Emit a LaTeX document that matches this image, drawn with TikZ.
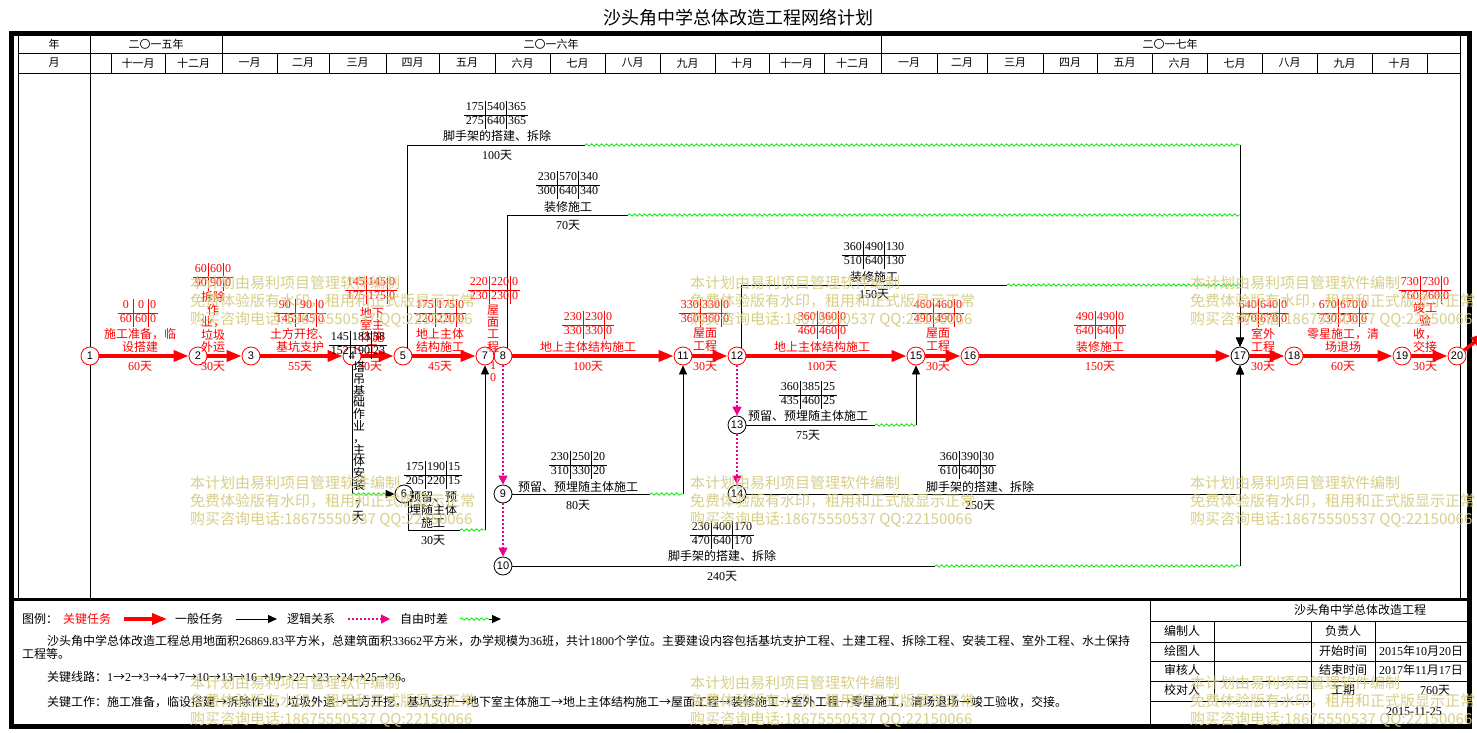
\documentclass[tikz,border=0pt]{standalone}
\usepackage{fontspec}
\setmainfont{Noto Sans CJK SC}
\newfontfamily\numfont{Liberation Serif}
\newfontfamily\circfont{Liberation Sans}
\usetikzlibrary{arrows.meta,decorations.pathmorphing}
\definecolor{wmcol}{RGB}{212,202,125}
\definecolor{wavegreen}{RGB}{0,235,0}
\newcommand\tbx[6]{{\numfont\setlength\tabcolsep{1.6pt}\begin{tabular}{c|c|c}#1&#2&#3\\\hline #4&#5&#6\end{tabular}}}
\newcommand\dys[1]{{\numfont #1}天}
\begin{document}
\begin{tikzpicture}[x=1pt,y=-1pt,
 evt/.style={circle, draw=black, line width=0.8pt, fill=white, minimum size=18pt, inner sep=0pt, font=\circfont\fontsize{11}{11}\selectfont},
 cevt/.style={evt, draw=red},
 crit/.style={draw=red, line width=3.5pt, -{Triangle[length=15pt,width=11pt]}},
 norm/.style={draw=black, line width=0.8pt, -{Triangle[length=9pt,width=8pt]}},
 thinln/.style={draw=black, line width=0.8pt},
 dum/.style={draw=magenta, line width=1.3pt, dash pattern=on 1.5pt off 2.5pt, -{Triangle[length=9pt,width=9pt]}},
 wavy/.style={draw=wavegreen, line width=0.8pt, decorate, decoration={snake, amplitude=1.2pt, segment length=5pt}},
 lbl/.style={align=center, inner sep=0pt, font=\fontsize{12}{13}\selectfont},
 clbl/.style={lbl, text=red},
 tbl/.style={inner sep=0pt, font=\fontsize{12}{13.5}\selectfont},
 ctbl/.style={tbl, text=red},
 hd/.style={inner sep=0pt, font=\fontsize{11}{11}\selectfont},
 wmk/.style={text=wmcol, opacity=0.92, anchor=west, align=left, inner sep=0pt, font=\fontsize{15}{18}\selectfont},
]
\useasboundingbox (0,0) rectangle (1477,733);
% title
\node[inner sep=0pt, font=\fontsize{18}{18}\selectfont] (title) at (738,18) {沙头角中学总体改造工程网络计划};
% frame
\draw[line width=5pt] (11,34) rectangle (1469,726);
\draw[line width=0.8pt] (18,35) -- (18,599) (1460,35) -- (1460,599);
\draw[line width=0.8pt] (18,53) -- (1460,53) (18,73) -- (1460,73);
\draw[line width=0.8pt] (90,35) -- (90,599);
\foreach \x in {222,881} \draw[line width=0.8pt] (\x,35) -- (\x,53);
\foreach \x in {111,165,222,277,329,386,439,495,550,605,660,715,769,824,881,937,987,1043,1097,1152,1207,1262,1317,1372,1427}
  \draw[line width=0.8pt] (\x,53) -- (\x,73);
\draw[line width=3pt] (11,599) -- (1469,599);
% header text
\node[hd] (hy) at (54,44) {年};
\node[hd] (hm) at (54,63) {月};
\node[hd] (y15) at (156,44) {二〇一五年};
\node[hd] (y16) at (551,44) {二〇一六年};
\node[hd] (y17) at (1170,44) {二〇一七年};
\foreach \a/\b/\t in {111/165/十一月,165/222/十二月,222/277/一月,277/329/二月,329/386/三月,386/439/四月,439/495/五月,495/550/六月,550/605/七月,605/660/八月,660/715/九月,715/769/十月,769/824/十一月,824/881/十二月,881/937/一月,937/987/二月,987/1043/三月,1043/1097/四月,1097/1152/五月,1152/1207/六月,1207/1262/七月,1262/1317/八月,1317/1372/九月,1372/1427/十月}
  \node[hd] (mo\a) at ({(\a+\b)/2},63) {\t};
% title block
\draw[line width=0.8pt] (1150,599) -- (1150,726);
\draw[line width=0.8pt] (1150,621) -- (1469,621) (1150,642) -- (1469,642) (1150,661) -- (1469,661) (1150,681) -- (1469,681) (1150,701) -- (1311,701);
\draw[line width=0.8pt] (1214,621) -- (1214,701) (1311,621) -- (1311,726) (1375,621) -- (1375,681);
\node[lbl] (tbt) at (1360,610) {沙头角中学总体改造工程};
\node[lbl] (tb1) at (1182,631) {编制人};
\node[lbl] (tb2) at (1343,631) {负责人};
\node[lbl] (tb3) at (1182,651) {绘图人};
\node[lbl] (tb4) at (1343,651) {开始时间};
\node[lbl] (tb5) at (1421,651) {{\numfont 2015}年{\numfont 10}月{\numfont 20}日};
\node[lbl] (tb6) at (1182,670) {审核人};
\node[lbl] (tb7) at (1343,670) {结束时间};
\node[lbl] (tb8) at (1421,670) {{\numfont 2017}年{\numfont 11}月{\numfont 17}日};
\node[lbl] (tb9) at (1182,690) {校对人};
\node[lbl] (tb10) at (1343,690) {工期};
\node[lbl] (tb11) at (1435,690) {\dys{760}};
\node[lbl] (tb12) at (1414,712) {\numfont 2015-11-25};
% legend
\node[lbl, anchor=west] (lg0) at (22,619) {图例：};
\node[clbl] (lg1) at (87,619) {关键任务};
\coordinate (lr1) at (124,619); \coordinate (lr2) at (167,619);
\draw[crit] (lr1) -- (lr2);
\node[lbl] (lg2) at (199,619) {一般任务};
\coordinate (lb1) at (236,619); \coordinate (lb2) at (277,619);
\draw[norm] (lb1) -- (lb2);
\node[lbl] (lg3) at (311,619) {逻辑关系};
\coordinate (ld1) at (348,619); \coordinate (ld2) at (390,619);
\draw[dum] (ld1) -- (ld2);
\node[lbl] (lg4) at (424,619) {自由时差};
\coordinate (lw1) at (460,619); \coordinate (lw2) at (489,619); \coordinate (lw3) at (501,619);
\draw[wavy] (lw1) -- (lw2); \draw[norm] (lw2) -- (lw3);
\node[lbl, anchor=west] (p1) at (47,641) {沙头角中学总体改造工程总用地面积{\numfont 26869.83}平方米，总建筑面积{\numfont 33662}平方米，办学规模为{\numfont 36}班，共计{\numfont 1800}个学位。主要建设内容包括基坑支护工程、土建工程、拆除工程、安装工程、室外工程、水土保持};
\node[lbl, anchor=west] (p2) at (22,654) {工程等。};
\node[lbl, anchor=west] (p3) at (47,677) {关键线路：{\numfont 1}→{\numfont 2}→{\numfont 3}→{\numfont 4}→{\numfont 7}→{\numfont 10}→{\numfont 13}→{\numfont 16}→{\numfont 19}→{\numfont 22}→{\numfont 23}→{\numfont 24}→{\numfont 25}→{\numfont 26}。};
\node[lbl, anchor=west] (p4) at (47,702) {关键工作：施工准备，临设搭建→拆除作业，垃圾外运→土方开挖，基坑支护→地下室主体施工→地上主体结构施工→屋面工程→装修施工→室外工程→零星施工，清场退场→竣工验收，交接。};
% ---------- network: events ----------
\node[cevt] (n1) at (90,356) {1};
\node[cevt] (n2) at (198,356) {2};
\node[cevt] (n3) at (251,356) {3};
\node[cevt] (n4) at (352,356) {4};
\node[cevt] (n5) at (403,356) {5};
\node[cevt] (n7) at (485,356) {7};
\node[cevt] (n8) at (503,356) {8};
\node[cevt] (n11) at (683,356) {11};
\node[cevt] (n12) at (737,356) {12};
\node[cevt] (n15) at (916,356) {15};
\node[cevt] (n16) at (970,356) {16};
\node[evt] (n17) at (1240,356) {17};
\node[cevt] (n18) at (1294,356) {18};
\node[cevt] (n19) at (1402,356) {19};
\node[cevt] (n20) at (1457,356) {20};
\node[evt] (n6) at (404,494) {6};
\node[evt] (n9) at (503,494) {9};
\node[evt] (n10) at (503,566) {10};
\node[evt] (n13) at (737,425) {13};
\node[evt] (n14) at (737,494) {14};
% ---------- critical activities ----------
\draw[crit] (n1) -- (n2);
\draw[crit] (n2) -- (n3);
\draw[crit] (n3) -- (n4);
\draw[crit] (n4) -- (n5);
\draw[crit] (n5) -- (n7);
\draw[draw=red, line width=3.5pt] (n7) -- (n8);
\draw[crit] (n8) -- (n11);
\draw[crit] (n11) -- (n12);
\draw[crit] (n12) -- (n15);
\draw[crit] (n15) -- (n16);
\draw[crit] (n16) -- (n17);
\draw[crit] (n17) -- (n18);
\draw[crit] (n18) -- (n19);
\draw[crit] (n19) -- (n20);
\coordinate (ex20) at (1486,333);
\draw[crit] (n20) -- (ex20);
% ---------- other activities ----------
\coordinate (a1) at (585,145); \coordinate (b1) at (1240,145);
\draw[thinln] (n5.60) |- (a1); \draw[wavy] (a1) -- (b1); \draw[norm] (b1) -- (n17);
\coordinate (a2) at (628,215); \coordinate (b2) at (1240,215);
\draw[thinln] (n8.60) |- (a2); \draw[wavy] (a2) -- (b2); \draw[norm] (b2) -- (n17);
\coordinate (a3) at (1007,285); \coordinate (b3) at (1240,285);
\draw[thinln] (n12.60) |- (a3); \draw[wavy] (a3) -- (b3); \draw[norm] (b3) -- (n17);
\coordinate (a4) at (352,494); \coordinate (b4) at (388,494);
\draw[thinln] (n4) -- (a4); \draw[wavy] (a4) -- (b4); \draw[norm] (b4) -- (n6);
\coordinate (a6) at (460,530); \coordinate (b6) at (485,530);
\draw[thinln] (n6.-60) |- (a6); \draw[wavy] (a6) -- (b6); \draw[norm] (b6) -- (n7);
\coordinate (a9) at (650,494); \coordinate (b9) at (683,494);
\draw[thinln] (n9) -- (a9); \draw[wavy] (a9) -- (b9); \draw[norm] (b9) -- (n11);
\coordinate (a13) at (875,425); \coordinate (b13) at (916,425);
\draw[thinln] (n13) -- (a13); \draw[wavy] (a13) -- (b13); \draw[norm] (b13) -- (n15);
\coordinate (b14) at (1240,494);
\draw[thinln] (n14) -- (b14); \draw[norm] (b14) -- (n17);
\coordinate (a10) at (935,566); \coordinate (b10) at (1240,566);
\draw[thinln] (n10) -- (a10); \draw[wavy] (a10) -- (b10); \draw[norm] (b10) -- (n17);
% dummies
\draw[dum] (n8) -- (n9);
\draw[dum] (n9) -- (n10);
\draw[dum] (n12) -- (n13);
\draw[dum] (n13) -- (n14);
% ---------- critical labels ----------
\node[ctbl] (t12) at (138,313) {\tbx{0}{0}{0}{60}{60}{0}};
\node[clbl] (l12) at (140,340) {施工准备，临\\设搭建};
\node[clbl] (d12) at (140,366) {\dys{60}};
\node[ctbl] (t23) at (213,277) {\tbx{60}{60}{0}{90}{90}{0}};
\node[clbl, font=\fontsize{12}{12.5}\selectfont] (l23) at (213,322) {拆除\\作\\业，\\垃圾\\外运};
\node[clbl] (d23) at (213,366) {\dys{30}};
\node[ctbl] (t34) at (300,313) {\tbx{90}{90}{0}{145}{145}{0}};
\node[clbl] (l34) at (300,340) {土方开挖、\\基坑支护};
\node[clbl] (d34) at (300,366) {\dys{55}};
\node[ctbl] (t45) at (371,290) {\tbx{145}{145}{0}{175}{175}{0}};
\node[clbl, font=\fontsize{12}{12}\selectfont] (l45) at (372,330) {地下\\室主\\体施\\工};
\node[clbl] (d45) at (370,366) {\dys{30}};
\node[ctbl] (t57) at (440,313) {\tbx{175}{175}{0}{220}{220}{0}};
\node[clbl] (l57) at (440,340) {地上主体\\结构施工};
\node[clbl] (d57) at (440,366) {\dys{45}};
\node[ctbl] (t78) at (494,290) {\tbx{220}{220}{0}{230}{230}{0}};
\node[clbl, font=\fontsize{12}{12.3}\selectfont] (l78) at (493,328.5) {屋\\面\\工\\程};
\node[clbl, font=\numfont\fontsize{12}{12}\selectfont] (d78) at (493,372) {1\\0};
\node[ctbl] (t811) at (588,325) {\tbx{230}{230}{0}{330}{330}{0}};
\node[clbl] (l811) at (588,347) {地上主体结构施工};
\node[clbl] (d811) at (588,366) {\dys{100}};
\node[ctbl] (t1112) at (705,313) {\tbx{330}{330}{0}{360}{360}{0}};
\node[clbl] (l1112) at (705,340) {屋面\\工程};
\node[clbl] (d1112) at (705,366) {\dys{30}};
\node[ctbl] (t1215) at (822,325) {\tbx{360}{360}{0}{460}{460}{0}};
\node[clbl] (l1215) at (822,347) {地上主体结构施工};
\node[clbl] (d1215) at (822,366) {\dys{100}};
\node[ctbl] (t1516) at (938,313) {\tbx{460}{460}{0}{490}{490}{0}};
\node[clbl] (l1516) at (938,340) {屋面\\工程};
\node[clbl] (d1516) at (938,366) {\dys{30}};
\node[ctbl] (t1617) at (1100,325) {\tbx{490}{490}{0}{640}{640}{0}};
\node[clbl] (l1617) at (1100,347) {装修施工};
\node[clbl] (d1617) at (1100,366) {\dys{150}};
\node[ctbl] (t1718) at (1263,313) {\tbx{640}{640}{0}{670}{670}{0}};
\node[clbl] (l1718) at (1263,340) {室外\\工程};
\node[clbl] (d1718) at (1263,366) {\dys{30}};
\node[ctbl] (t1819) at (1343,313) {\tbx{670}{670}{0}{730}{730}{0}};
\node[clbl] (l1819) at (1343,340) {零星施工，清\\场退场};
\node[clbl] (d1819) at (1343,366) {\dys{60}};
\node[ctbl] (t1920) at (1425,290) {\tbx{730}{730}{0}{760}{760}{0}};
\node[clbl] (l1920) at (1425,327.5) {竣工\\验\\收，\\交接};
\node[clbl] (d1920) at (1425,366) {\dys{30}};
% ---------- other labels ----------
\node[tbl] (t46) at (358,345) {\tbx{145}{183}{38}{152}{190}{23}};
\node[lbl, font=\fontsize{12}{11.8}\selectfont] (l46) at (359,426) {塔\\吊\\基\\础\\作\\业\\，\\主\\体\\安\\装};
\node[lbl, font=\fontsize{12}{12.5}\selectfont] (d46) at (358,511) {{\numfont 7}\\天};
\node[tbl] (t517) at (496,115) {\tbx{175}{540}{365}{275}{640}{365}};
\node[lbl] (l517) at (497,136) {脚手架的搭建、拆除};
\node[lbl] (d517) at (497,155) {\dys{100}};
\node[tbl] (t817) at (568,185) {\tbx{230}{570}{340}{300}{640}{340}};
\node[lbl] (l817) at (568,207) {装修施工};
\node[lbl] (d817) at (568,225) {\dys{70}};
\node[tbl] (t1217) at (874,255) {\tbx{360}{490}{130}{510}{640}{130}};
\node[lbl] (l1217) at (874,277) {装修施工};
\node[lbl] (d1217) at (874,294) {\dys{150}};
\node[tbl] (t1315) at (808,395) {\tbx{360}{385}{25}{435}{460}{25}};
\node[lbl] (l1315) at (808,416) {预留、预埋随主体施工};
\node[lbl] (d1315) at (808,435) {\dys{75}};
\node[tbl] (t911) at (578,465) {\tbx{230}{250}{20}{310}{330}{20}};
\node[lbl] (l911) at (578,487) {预留、预埋随主体施工};
\node[lbl] (d911) at (578,505) {\dys{80}};
\node[tbl] (t1417) at (967,465) {\tbx{360}{390}{30}{610}{640}{30}};
\node[lbl] (l1417) at (980,487) {脚手架的搭建、拆除};
\node[lbl] (d1417) at (980,505) {\dys{250}};
\node[tbl] (t1017) at (722,535) {\tbx{230}{400}{170}{470}{640}{170}};
\node[lbl] (l1017) at (722,556) {脚手架的搭建、拆除};
\node[lbl] (d1017) at (722,576) {\dys{240}};
\node[tbl] (t67) at (433,475) {\tbx{175}{190}{15}{205}{220}{15}};
\node[lbl] (l67) at (433,510) {预留、预\\埋随主体\\施工};
\node[lbl] (d67) at (433,540) {\dys{30}};
% ---------- watermarks ----------
\foreach \x in {190,690,1190} \foreach \y in {284,484,684}
  \node[wmk] (w\x-\y) at (\x,\y+18) {本计划由易利项目管理软件编制\\免费体验版有水印，租用和正式版显示正常\\购买咨询电话:18675550537 QQ:22150066};
\end{tikzpicture}
\end{document}
